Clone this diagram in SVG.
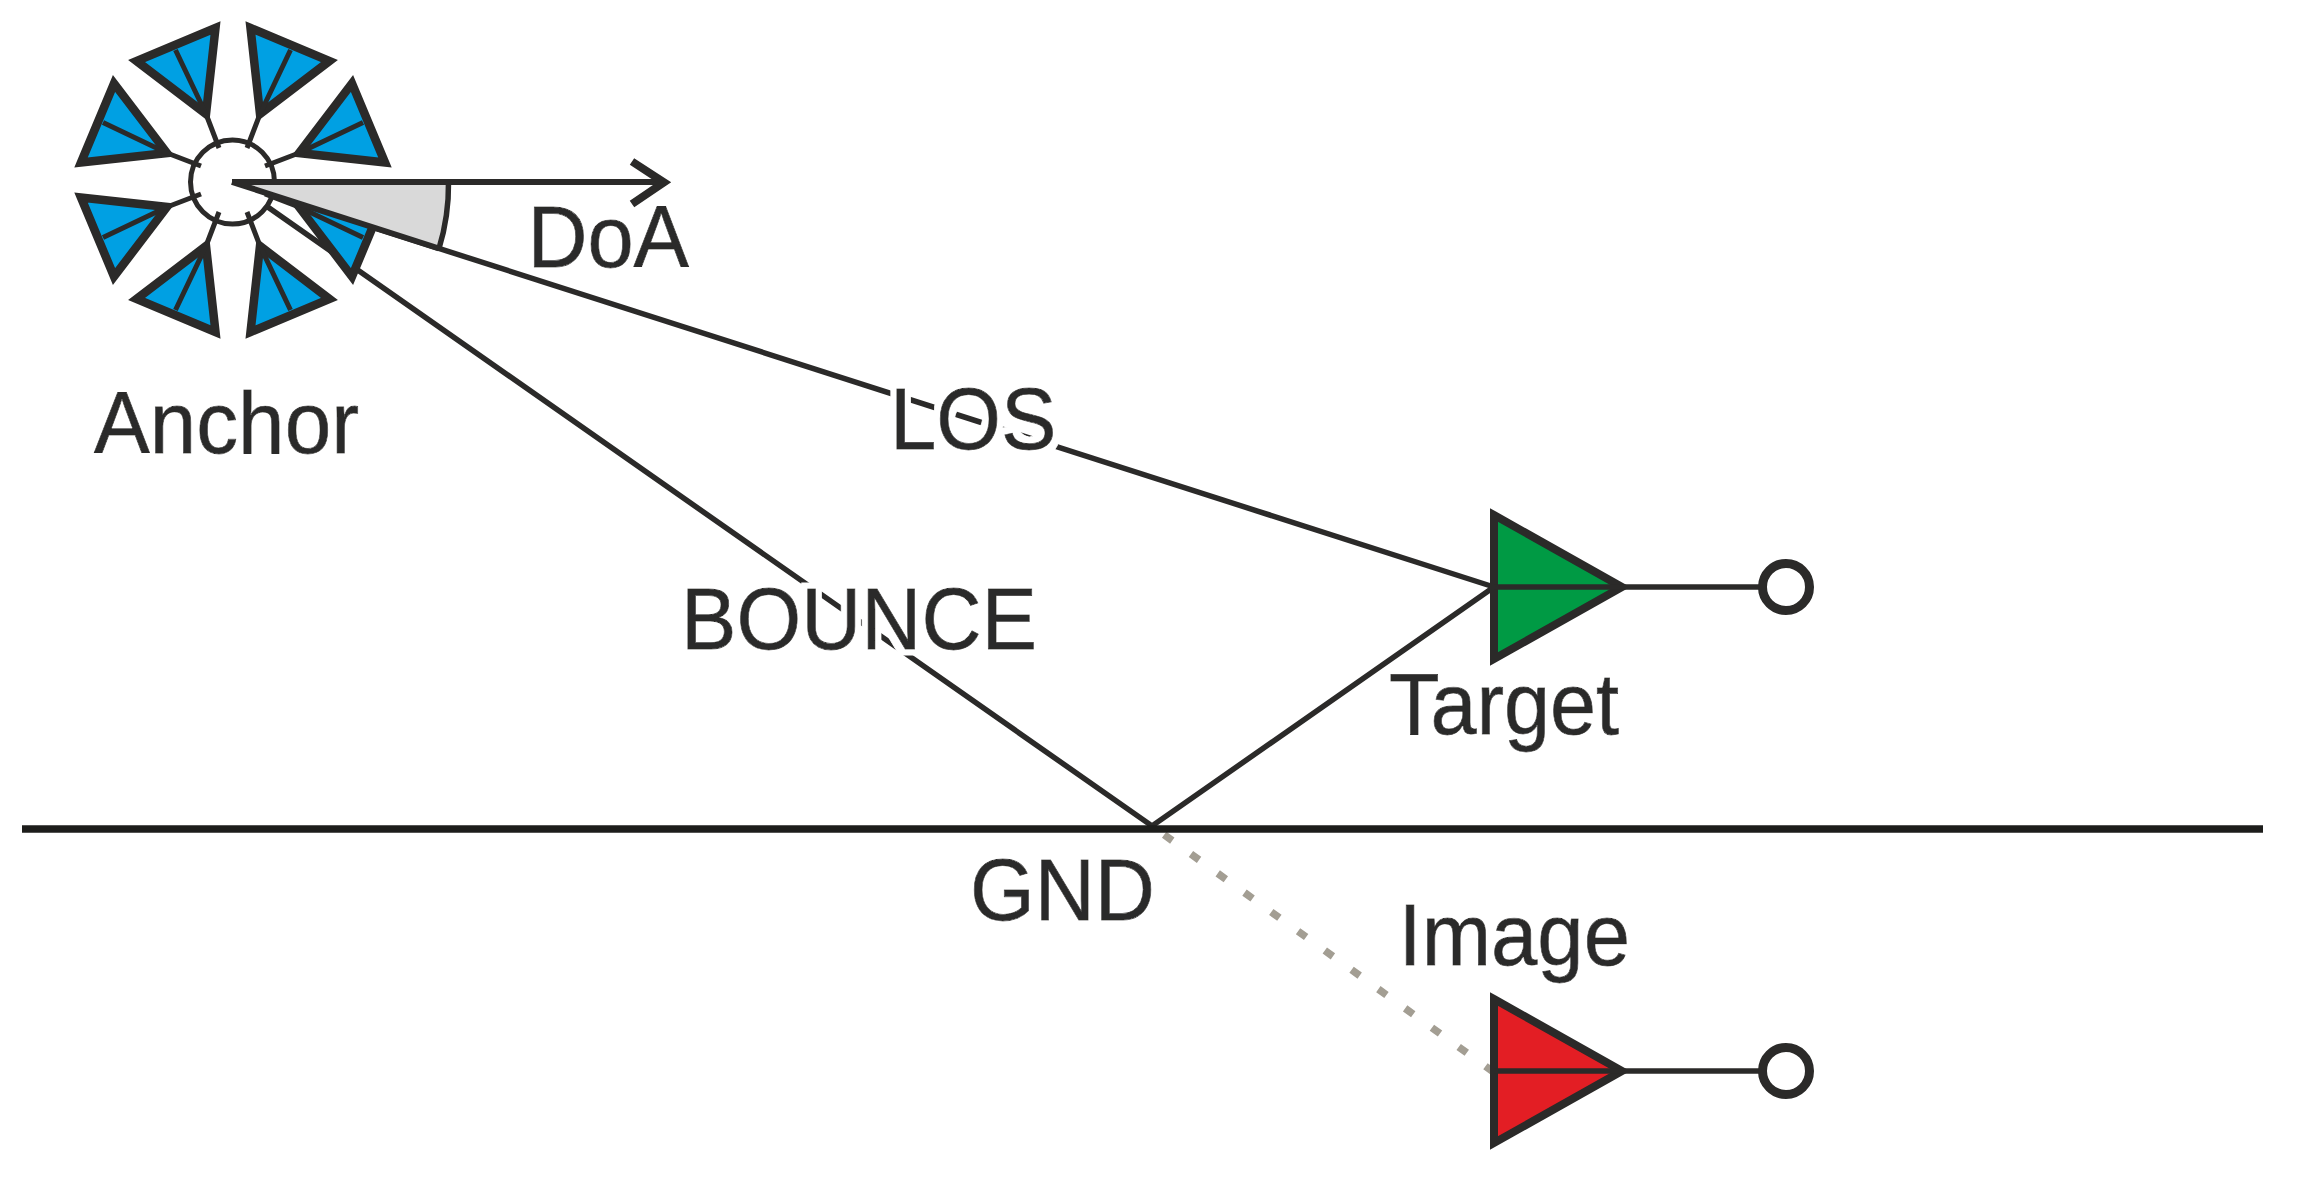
<svg xmlns="http://www.w3.org/2000/svg" width="2300" height="1183" viewBox="0 0 2300 1183">
<style>
.ln{fill:none;stroke:#2b2a29;stroke-width:5.5}
.hv{fill:none;stroke:#2b2a29;stroke-width:6}
.tri{stroke:#2b2a29;stroke-width:8;stroke-miterlimit:12}
.ant{fill:#00a0e3;stroke:#2b2a29;stroke-width:8.5;stroke-miterlimit:12}
.in{fill:none;stroke:#2b2a29;stroke-width:5}
.port{fill:#fff;stroke:#2b2a29;stroke-width:9}
.lbl{font-family:"Liberation Sans",Arial,sans-serif;font-size:87px;fill:#2b2a29;stroke:#2b2a29;stroke-width:.8;filter:url(#halo)}
</style>
<defs>
<filter id="halo" x="-15%" y="-30%" width="130%" height="160%">
<feMorphology in="SourceAlpha" operator="dilate" radius="5.5" result="d"/>
<feFlood flood-color="#fff"/>
<feComposite in2="d" operator="in" result="w"/>
<feMerge><feMergeNode in="w"/><feMergeNode in="SourceGraphic"/></feMerge>
</filter>
<g id="el">
<path class="ant" d="M17.5 -152L96.5 -119L27 -66Z"/>
<path class="in" d="M27 -66L57.5 -130M27 -66L14 -32"/>
</g>
</defs>
<rect width="2300" height="1183" fill="#fff"/>
<g id="connectors">
<path class="ln" d="M232 182L1494 587"/>
<path class="ln" d="M232 182L1152 826L1494 587"/>
<path d="M1152 826L1492 1071" fill="none" stroke="#a39e93" stroke-width="7.5" stroke-dasharray="10 23" stroke-dashoffset="-15"/>
<path d="M22 829H2263" fill="none" stroke="#1d1d1b" stroke-width="7.6"/>
</g>
<g id="anchor">
<circle cx="232.5" cy="182" r="42" fill="#fff" stroke="#2b2a29" stroke-width="5"/>
<g transform="translate(233 180)">
<use href="#el"/>
<use href="#el" transform="matrix(-1 0 0 1 0 0)"/>
<use href="#el" transform="matrix(0 -1 -1 0 0 0)"/>
<use href="#el" transform="matrix(0 1 -1 0 0 0)"/>
<use href="#el" transform="matrix(1 0 0 -1 0 0)"/>
<use href="#el" transform="matrix(-1 0 0 -1 0 0)"/>
<use href="#el" transform="matrix(0 -1 1 0 0 0)"/>
<use href="#el" transform="matrix(0 1 1 0 0 0)"/>
</g>
</g>
<g id="doa">
<path d="M232 182H448.5A217 217 0 0 1 439 248.5Z" fill="#d9d9d9" stroke="none"/>
<path d="M232 182L439 248.5" class="hv"/>
<path d="M448.5 182A217 217 0 0 1 439 248.5" class="ln"/>
<path d="M232 182H664" class="hv"/>
<path d="M632 161.5L664 182.3L632 204" fill="none" stroke="#2b2a29" stroke-width="8" stroke-miterlimit="8"/>
</g>
<g id="target">
<path class="tri" fill="#009a44" d="M1494 515L1622 587L1494 659Z"/>
<path class="ln" d="M1494 587H1762"/>
<circle class="port" cx="1786" cy="587" r="23.5"/>
</g>
<g id="image">
<path class="tri" fill="#e31e24" d="M1494 999L1622 1071L1494 1143Z"/>
<path class="ln" d="M1494 1071H1762"/>
<circle class="port" cx="1786" cy="1071" r="23.5"/>
</g>
<g id="labels">
<text class="lbl" x="94" y="452.7" textLength="265" lengthAdjust="spacingAndGlyphs">Anchor</text>
<text class="lbl" x="527.5" y="267" textLength="161.5" lengthAdjust="spacingAndGlyphs">DoA</text>
<text class="lbl" x="890" y="449" textLength="166.5" lengthAdjust="spacingAndGlyphs">LOS</text>
<text class="lbl" x="681" y="648.5" textLength="356" lengthAdjust="spacingAndGlyphs">BOUNCE</text>
<text class="lbl" x="1389" y="734" textLength="230" lengthAdjust="spacingAndGlyphs">Target</text>
<text class="lbl" x="970" y="920" textLength="185" lengthAdjust="spacingAndGlyphs">GND</text>
<text class="lbl" x="1398.5" y="965" textLength="231.5" lengthAdjust="spacingAndGlyphs">Image</text>
</g>
</svg>
